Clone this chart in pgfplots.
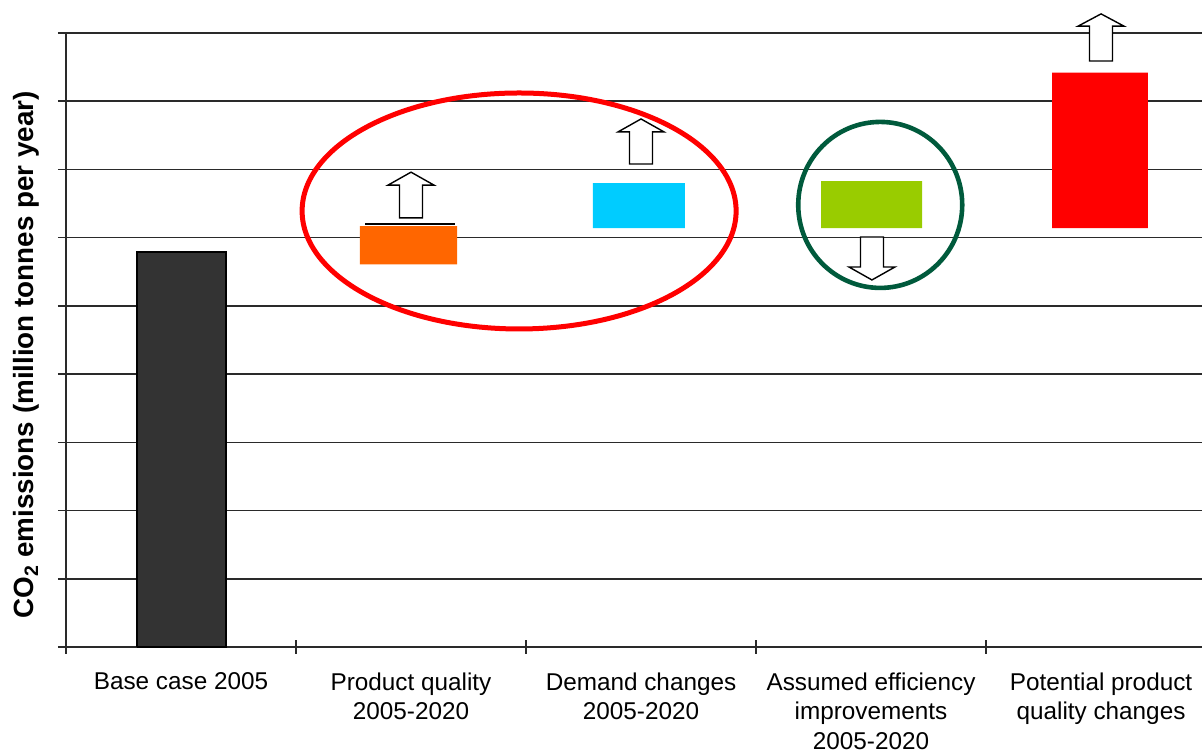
\documentclass[border=0pt]{standalone}
\usepackage{fontspec}
\setmainfont{Liberation Sans}
\usepackage{pgfplots}
\pgfplotsset{compat=1.18}
\definecolor{darkbar}{HTML}{333333}
\definecolor{orangebar}{HTML}{FF6600}
\definecolor{cyanbar}{HTML}{00CCFF}
\definecolor{greenbar}{HTML}{99CC00}
\definecolor{redbar}{HTML}{FF0000}
\definecolor{circgreen}{HTML}{005A3C}
\definecolor{gridc}{HTML}{2A2A2A}
% up arrow: xc, bottom, head base, tip
\newcommand{\uparr}[4]{%
  \draw[black, line width=1.4pt, fill=white, line join=miter]
    ([xshift=-11.5pt]axis cs:#1,#2) -- ([xshift=11.5pt]axis cs:#1,#2)
    -- ([xshift=11.5pt]axis cs:#1,#3) -- ([xshift=23pt]axis cs:#1,#3)
    -- (axis cs:#1,#4) -- ([xshift=-23pt]axis cs:#1,#3)
    -- ([xshift=-11.5pt]axis cs:#1,#3) -- cycle;}
\begin{document}
\begin{tikzpicture}
\begin{axis}[
  scale only axis, width=1136pt, height=614pt,
  xmin=-0.5, xmax=4.439, ymin=0, ymax=9,
  axis lines=left,
  axis line style={-, line width=1.6pt, gridc},
  ytick={0,1,...,9}, yticklabels={},
  ymajorgrids, grid style={line width=1.6pt, gridc},
  xtick={0,1,2,3,4},
  xticklabels={Base case 2005, {Product quality\\2005-2020}, {Demand changes\\2005-2020}, {Assumed efficiency\\improvements\\2005-2020}, {Potential product\\quality changes}},
  minor xtick={-0.5,0.5,1.5,2.5,3.5},
  tick align=center,
  major tick length=16pt, minor tick length=14pt,
  major x tick style={draw=none},
  minor x tick style={line width=1.5pt, gridc},
  ytick style={line width=1.5pt, gridc},
  xticklabel style={align=center, font=\fontsize{24.3}{29.5}\selectfont, yshift=-14pt},
  ylabel={\textbf{CO\textsubscript{2} emissions (million tonnes per year)}},
  ylabel style={at={(axis description cs:-0.0352,0.476)}, anchor=center, font=\fontsize{27.8}{32}\selectfont},
  clip=false,
]
\coordinate (BL) at (rel axis cs:0,0);
\coordinate (TR) at (rel axis cs:1,1);
% bars (floating)
\addplot[fill=darkbar, draw=black, line width=1.2pt] coordinates {(-0.191,0) (0.196,0) (0.196,5.79) (-0.191,5.79) (-0.191,0)};
\addplot[fill=orangebar, draw=none] coordinates {(0.778,5.61) (1.200,5.61) (1.200,6.17) (0.778,6.17) (0.778,5.61)};
\addplot[black, line width=1.6pt] coordinates {(0.800,6.20) (1.191,6.20)};
\addplot[fill=cyanbar, draw=none] coordinates {(1.791,6.14) (2.191,6.14) (2.191,6.80) (1.791,6.80) (1.791,6.14)};
\addplot[fill=greenbar, draw=none] coordinates {(2.783,6.14) (3.222,6.14) (3.222,6.83) (2.783,6.83) (2.783,6.14)};
\addplot[fill=redbar, draw=none] coordinates {(3.787,6.14) (4.204,6.14) (4.204,8.42) (3.787,8.42) (3.787,6.14)};
% arrows
\uparr{1.0}{6.29}{6.77}{6.96}
\uparr{2.0}{7.08}{7.55}{7.74}
\uparr{4.0}{8.59}{9.10}{9.28}
\draw[black, line width=1.4pt, fill=white, line join=miter]
    ([xshift=-11.5pt]axis cs:3.004,6.01) -- ([xshift=11.5pt]axis cs:3.004,6.01)
    -- ([xshift=11.5pt]axis cs:3.004,5.57) -- ([xshift=23pt]axis cs:3.004,5.57)
    -- (axis cs:3.004,5.38) -- ([xshift=-23pt]axis cs:3.004,5.57)
    -- ([xshift=-11.5pt]axis cs:3.004,5.57) -- cycle;
% ellipses
\draw[redbar, line width=5pt] (axis cs:1.470,6.391) ellipse [x radius=217pt, y radius=118pt];
\draw[circgreen, line width=4.6pt] (axis cs:3.04,6.48) ellipse [x radius=82pt, y radius=83pt];
\end{axis}
\pgfresetboundingbox
\path ([xshift=-66pt,yshift=-105pt]BL) rectangle ([yshift=33pt]TR);
\end{tikzpicture}
\end{document}
